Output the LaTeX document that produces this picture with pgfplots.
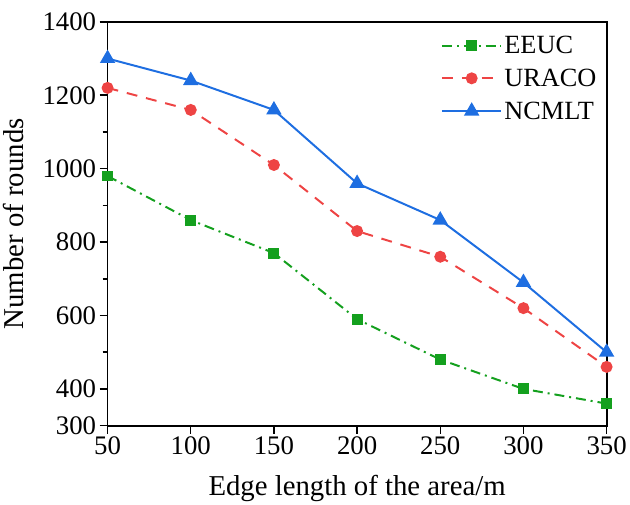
\documentclass[border=0pt]{standalone}
\usepackage{pgfplots}
\pgfplotsset{compat=1.18}
\usepackage{fontspec}
\setmainfont{Liberation Serif}
\definecolor{cg}{RGB}{20,160,30}
\definecolor{cr}{RGB}{238,68,68}
\definecolor{cb}{RGB}{30,110,225}
\begin{document}
\begin{tikzpicture}
\begin{axis}[
  scale only axis,
  width=503pt, height=407pt,
  xmin=50, xmax=350, ymin=300, ymax=1400,
  xtick={50,100,...,350},
  ytick={300,400,600,800,1000,1200,1400},
  minor ytick={500,700,900,1100,1300},
  xtick pos=left, ytick pos=left,
  tick align=outside,
  major tick length=8pt, minor tick length=5pt,
  every tick/.style={black, line width=1.5pt},
  axis line style={line width=1.8pt},
  /pgf/number format/assume math mode=true,
  /pgf/number format/1000 sep={},
  tick label style={font=\fontsize{27}{29}\selectfont},
  label style={font=\fontsize{29}{31}\selectfont},
  xlabel={Edge length of the area/m},
  ylabel={Number of rounds},
  xlabel style={yshift=-13pt},
  ylabel style={yshift=12pt},
  legend style={draw=none, fill=none, at={(0.99,0.975)}, anchor=north east,
    font=\fontsize{26.5}{28}\selectfont, row sep=10pt},
  legend cell align=left,
  legend image code/.code={\draw[mark repeat=2,mark phase=2,#1] plot coordinates {(0pt,0pt) (30pt,0pt) (60pt,0pt)};},
  extra description/.code={\path (rel axis cs:0,1) ++(0,22pt);},
]
\addplot[cg, line width=2pt, dash pattern=on 10pt off 5pt on 2pt off 5pt, mark=square*, mark size=4.5pt, mark options={solid}]
  coordinates {(50,980) (100,860) (150,770) (200,590) (250,480) (300,400) (350,360)};
\addlegendentry{EEUC}
\addplot[cr, line width=2pt, dash pattern=on 11pt off 9pt, mark=*, mark size=5pt, mark options={solid}]
  coordinates {(50,1220) (100,1160) (150,1010) (200,830) (250,760) (300,620) (350,460)};
\addlegendentry{URACO}
\addplot[cb, line width=2pt, mark=triangle*, mark size=7pt, mark options={solid}]
  coordinates {(50,1300) (100,1240) (150,1160) (200,960) (250,860) (300,690) (350,500)};
\addlegendentry{NCMLT}
\end{axis}
\end{tikzpicture}
\end{document}
